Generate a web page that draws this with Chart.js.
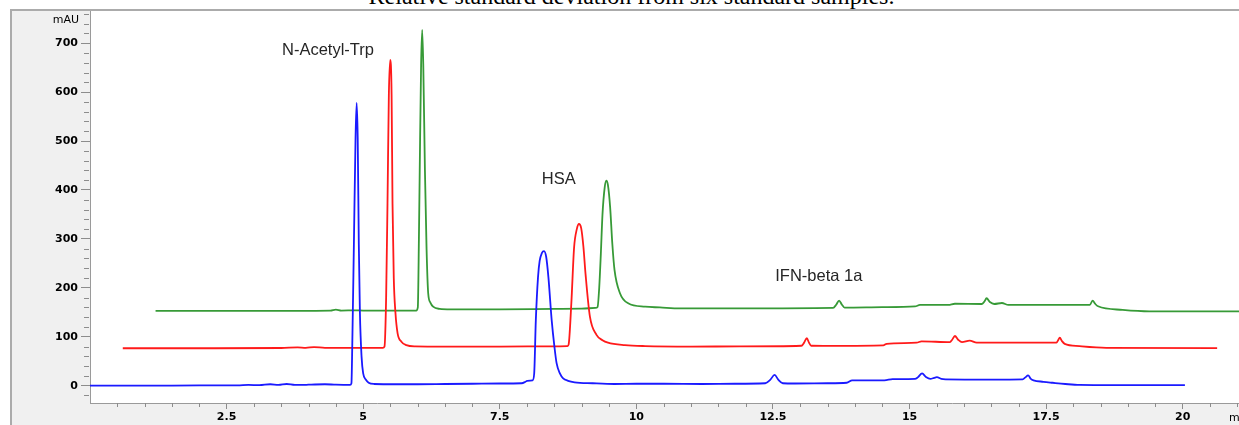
<!DOCTYPE html>
<html>
<head>
<meta charset="utf-8">
<script src="https://cdn.jsdelivr.net/npm/chart.js@4.4.1/dist/chart.umd.min.js"></script>
<style>
html,body{margin:0;padding:0;background:#fff;width:1239px;height:425px;overflow:hidden;}
#title{position:absolute;left:0;top:-16px;width:1263px;text-align:center;font-family:"Liberation Serif","Times New Roman",serif;font-size:24px;line-height:24px;color:#000;white-space:nowrap;}
#frame{position:absolute;left:10px;top:9px;width:1300px;height:500px;border-left:2px solid #ababab;border-top:2px solid #ababab;background:#f0f0f0;}
#c{position:absolute;left:0;top:0;}
</style>
</head>
<body>
<div id="title">Relative standard deviation from six standard samples.</div>
<div id="frame"></div>
<canvas id="c" width="1239" height="425"></canvas>
<script>
// ---- data (retention time in min, signal in mAU) ----
const blueTime = [0.0,1.0,2.0,2.7,2.9,3.1,3.3,3.45,3.6,3.75,4.0,4.3,4.5,4.76,4.785,4.80,4.83,4.86,4.88,4.90,4.92,4.94,4.97,5.00,5.05,5.10,5.2,5.6,6.0,6.5,7.0,7.5,7.9,7.97,8.0,8.1,8.13,8.16,8.20,8.23,8.27,8.31,8.35,8.39,8.45,8.50,8.54,8.60,8.66,8.75,8.87,9.2,9.6,10.0,10.5,11.2,11.8,12.36,12.45,12.53,12.6,12.68,12.9,13.5,13.85,13.95,14.54,14.69,15.1,15.15,15.23,15.3,15.38,15.45,15.5,15.58,15.66,16.5,17.07,17.12,17.17,17.22,17.27,17.45,17.62,17.85,18.11,19.0,20.04];
const blueSignal = [0,0,0.5,0.5,1.5,1,3,1.5,3.5,1.5,2,3,2,1.5,5,80,289,505,578,505,289,150,60,25,12,6,3.5,3,3,3.5,4,4.5,5,8,10,11,25,134,222,255,271,275,263,222,134,80,46,25,15,10,7,5,3.5,4,4,3.5,4,5,12,22,12,5,4.5,5,6,11,11,13.5,14,17,25,18,14,16,17.5,14,13,12.5,13,17,21,14,11,8,6,3.5,1.5,1,1];

const redTime = [0.6,2.0,3.5,3.8,3.95,4.1,4.3,5.0,5.36,5.39,5.42,5.445,5.47,5.495,5.52,5.537,5.56,5.59,5.63,5.70,5.79,5.95,6.5,7.5,8.5,8.74,8.76,8.81,8.86,8.91,8.95,8.99,9.03,9.07,9.15,9.27,9.38,9.48,9.79,10.16,11.0,11.89,13.02,13.07,13.12,13.16,13.2,13.6,14.52,14.58,15.13,15.22,15.74,15.78,15.83,15.89,15.96,16.1,16.23,17.69,17.72,17.75,17.79,17.84,18.11,18.6,20.63];
const redSignal = [76.5,76.5,77,78.5,77.5,79,77.5,77.5,77.5,80,180,372,595,666,595,372,220,150,107,90,83,80.5,80,80,80.5,81,84,169,282,320,330.5,322,285,228,141,104,93,88,83,81,80,80.3,81.6,88,97,88,81.6,81.5,82.5,85.6,88,90.7,89,94,101.6,94,89,92,88,88,93,98,91,85.6,81,77.5,76.8];

const greenTime = [1.2,2.5,3.5,4.4,4.5,4.6,4.85,5.0,5.2,5.97,6.0,6.02,6.035,6.06,6.08,6.10,6.13,6.16,6.19,6.23,6.28,6.4,6.6,7.5,8.5,9.0,9.25,9.29,9.32,9.35,9.38,9.42,9.45,9.48,9.52,9.56,9.60,9.70,9.85,10.16,10.43,10.8,11.9,13.6,13.66,13.71,13.76,13.81,14.5,15.1,15.19,15.71,15.83,16.32,16.37,16.41,16.47,16.55,16.69,16.81,18.3,18.35,18.4,18.45,18.9,19.39,21.1];
const greenSignal = [152.8,153,153,153.5,155.5,153.5,154,153.5,153.5,153.5,160,300,441,655,727,655,441,280,189,170,161.5,157,156,156,157,157.5,159,161,200,270,350,405,419,410,365,290,236.6,189,168.5,161.5,160,158,158,159,166,174,166,159.6,160.5,162,165,165,167.5,167,172,178.7,171,167,169,165,165,174,167,162.3,155,152,152];

const xMajorLabels = [2.5,5,7.5,10,12.5,15,17.5,20];
const yMajorLabels = [0,100,200,300,400,500,600,700];

const peakNames = ['N-Acetyl-Trp','HSA','IFN-beta 1a'];
const peakNameTime = [4.356,8.58,13.34];
const peakNameSignal = [676,412,214.6];

// ---- chart ----
function toPoints(t, s){ return t.map((x,i)=>({x:x, y:s[i]})); }
function isMultiple(v, step){ const r = v/step; return Math.abs(r - Math.round(r)) < 1e-6; }
const TICK_FONT = {family:'"DejaVu Sans", sans-serif', size:11, weight:'bold'};

const decor = {
  id:'decor',
  beforeDraw(chart){
    const {ctx, chartArea:a} = chart;
    ctx.save();
    ctx.fillStyle = '#ffffff';
    ctx.fillRect(a.left, a.top, a.right - a.left, a.bottom - a.top);
    ctx.restore();
  },
  afterDraw(chart){
    const {ctx, chartArea:a, scales} = chart;
    const xs = scales.x, ys = scales.y;
    ctx.save();
    ctx.strokeStyle = '#8c8c8c';
    ctx.lineWidth = 1;
    ctx.beginPath();
    xs.ticks.forEach(t=>{
      if (!isMultiple(t.value, 2.5) && t.value > 0) {
        const px = Math.round(xs.getPixelForValue(t.value)) + 0.5;
        ctx.moveTo(px, a.bottom); ctx.lineTo(px, a.bottom + 4);
      }
    });
    ys.ticks.forEach(t=>{
      if (!isMultiple(t.value, 100)) {
        const py = Math.round(ys.getPixelForValue(t.value)) + 0.5;
        ctx.moveTo(a.left - 6, py); ctx.lineTo(a.left - 1, py);
      }
    });
    ctx.stroke();
    ctx.fillStyle = '#000';
    ctx.font = '11px "DejaVu Sans", sans-serif';
    ctx.textBaseline = 'middle';
    ctx.textAlign = 'right';
    ctx.fillText('mAU', 79, 20);
    ctx.textAlign = 'left';
    ctx.fillText('min', 1229, 418);
    ctx.fillStyle = '#262626';
    ctx.font = '16.5px "Liberation Sans", Arial, sans-serif';
    ctx.textAlign = 'center';
    ctx.textBaseline = 'alphabetic';
    peakNames.forEach((n,i)=>{
      ctx.fillText(n, xs.getPixelForValue(peakNameTime[i]), ys.getPixelForValue(peakNameSignal[i]));
    });
    ctx.restore();
  }
};

new Chart(document.getElementById('c'), {
  type:'line',
  data:{
    datasets:[
      {label:'Standard 1', data:toPoints(blueTime, blueSignal), borderColor:'#1a1aff'},
      {label:'Standard 2', data:toPoints(redTime, redSignal), borderColor:'#ff1a1a'},
      {label:'Standard 3', data:toPoints(greenTime, greenSignal), borderColor:'#379a37'}
    ]
  },
  options:{
    responsive:false,
    animation:false,
    devicePixelRatio:1,
    layout:{padding:{left:0, top:11, right:0, bottom:0}},
    plugins:{legend:{display:false}, tooltip:{enabled:false}, title:{display:false}},
    elements:{
      point:{radius:0},
      line:{borderWidth:1.8, cubicInterpolationMode:'monotone', fill:false}
    },
    scales:{
      x:{
        type:'linear', min:0, max:21.03,
        afterFit(s){ s.height = 22; s.paddingLeft = 0; s.paddingRight = 0; },
        grid:{drawOnChartArea:false, tickLength:6, lineWidth:1,
          tickColor:(c)=> (c.tick && isMultiple(c.tick.value, 2.5) && c.tick.value > 0) ? '#8c8c8c' : 'rgba(0,0,0,0)'},
        border:{color:'#9a9a9a', width:1},
        ticks:{stepSize:0.5, autoSkip:false, maxRotation:0, minRotation:0, includeBounds:false, padding:2,
          font:TICK_FONT, color:'#000',
          callback:(v)=> xMajorLabels.some(m=>Math.abs(m-v)<1e-6) ? String(Number(v.toFixed(2))) : ''}
      },
      y:{
        type:'linear', min:-35.36, max:765.8,
        afterFit(s){ s.width = 90; s.paddingTop = 0; s.paddingBottom = 0; },
        grid:{drawOnChartArea:false, tickLength:9, lineWidth:1,
          tickColor:(c)=> (c.tick && isMultiple(c.tick.value, 100)) ? '#8c8c8c' : 'rgba(0,0,0,0)'},
        border:{color:'#9a9a9a', width:1},
        ticks:{stepSize:20, autoSkip:false, includeBounds:false, padding:3,
          font:TICK_FONT, color:'#000',
          callback:(v)=> yMajorLabels.some(m=>Math.abs(m-v)<1e-6) ? String(Math.round(v)) : ''}
      }
    }
  },
  plugins:[decor]
});
</script>
</body>
</html>
